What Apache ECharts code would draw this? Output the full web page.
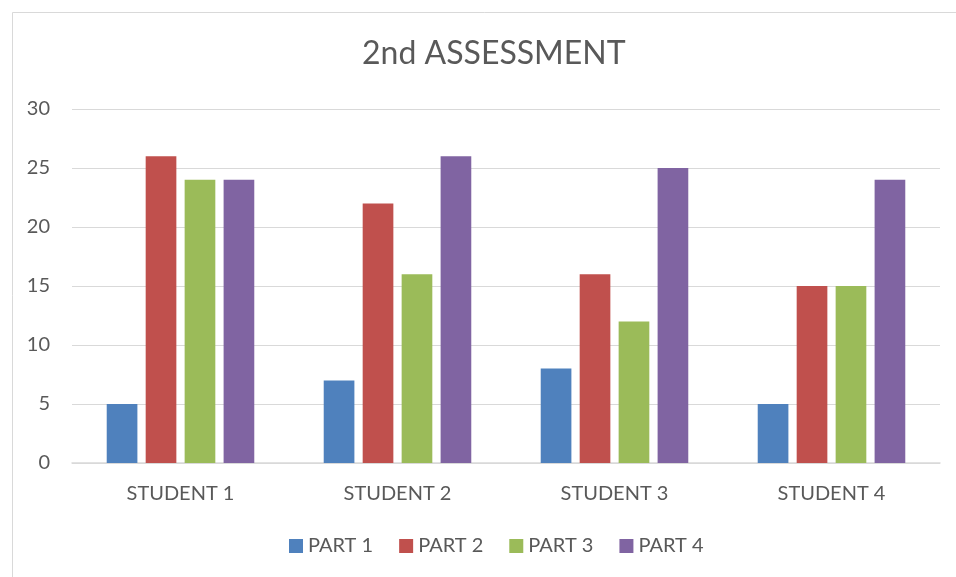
<!DOCTYPE html>
<html><head><meta charset="utf-8">
<script src="https://cdn.jsdelivr.net/npm/echarts@6/dist/echarts.min.js"></script>
<style>html,body{margin:0;padding:0;background:#fff}#c{width:956px;height:577px}</style>
</head><body><div id="c"></div>
<script>
const categories = ['STUDENT 1', 'STUDENT 2', 'STUDENT 3', 'STUDENT 4'];
const seriesNames = ['PART 1', 'PART 2', 'PART 3', 'PART 4'];
const part1 = [5, 7, 8, 5];
const part2 = [26, 22, 16, 15];
const part3 = [24, 16, 12, 15];
const part4 = [24, 26, 25, 24];
const yTicks = [0, 5, 10, 15, 20, 25, 30];
const colors = ['#4F81BD', '#C0504D', '#9BBB59', '#8064A2'];
const values = [part1, part2, part3, part4];
const font = 'Lato, "Open Sans", sans-serif';
const chart = echarts.init(document.getElementById('c'), null, {renderer: 'canvas'});
chart.setOption({
  animation: false,
  backgroundColor: '#fff',
  color: colors,
  graphic: [{type: 'rect', left: 10, top: 10, shape: {width: 960, height: 600}, style: {fill: 'none', stroke: '#d9d9d9', lineWidth: 1}, silent: true}],
  title: {text: '2nd ASSESSMENT', left: 357, top: 33, textStyle: {fontFamily: font, fontSize: 32, fontWeight: 'normal', color: '#595959'}},
  legend: {bottom: 16, left: 284, itemWidth: 14, itemHeight: 14, itemGap: 26, icon: 'rect',
    textStyle: {fontFamily: font, fontSize: 20, color: '#595959'}, data: seriesNames},
  grid: {left: 72, right: 16, top: 109, bottom: 114, containLabel: false},
  xAxis: {type: 'category', data: categories,
    axisLine: {lineStyle: {color: '#d9d9d9', width: 1.5}}, axisTick: {show: false},
    axisLabel: {fontFamily: font, fontSize: 20, color: '#595959', margin: 21}},
  yAxis: {type: 'value', min: yTicks[0], max: yTicks[yTicks.length - 1], interval: 5,
    axisLine: {show: false}, axisTick: {show: false},
    splitLine: {lineStyle: {color: '#d9d9d9', width: 1}},
    axisLabel: {fontFamily: font, fontSize: 20, color: '#595959', margin: 22}},
  series: seriesNames.map((n, i) => ({name: n, type: 'bar', data: values[i], barGap: '27%', barCategoryGap: '32%',
    itemStyle: {color: colors[i]}}))
});
</script></body></html>
